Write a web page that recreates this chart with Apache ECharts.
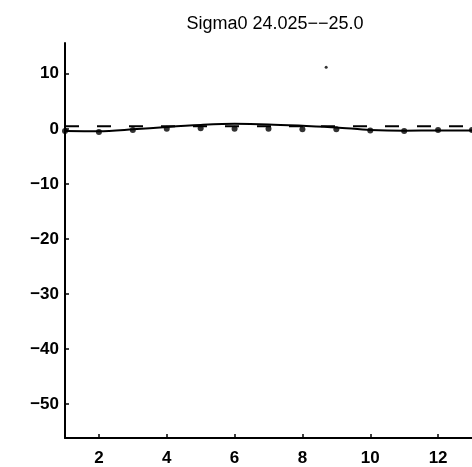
<!DOCTYPE html>
<html>
<head>
<meta charset="utf-8">
<script src="https://cdn.jsdelivr.net/npm/echarts@6/dist/echarts.min.js"></script>
<style>html,body{margin:0;padding:0;background:#fff;}#c{width:472px;height:467px;}</style>
</head>
<body>
<div id="c"></div>
<script>
var titleText = 'Sigma0 24.025\u2212\u221225.0';
var xValues = [1, 2, 3, 4, 5, 6, 7, 8, 9, 10, 11, 12, 13];
var fitLine = [-0.4, -0.45, -0.1, 0.35, 0.7, 0.9, 0.8, 0.55, 0.25, -0.2, -0.35, -0.3, -0.3];
var dotValues = [-0.4, -0.6, -0.2, 0.0, 0.1, 0.0, 0.0, -0.1, -0.1, -0.3, -0.4, -0.2, -0.2];
var dashedLevel = [0.45, 0.45, 0.45, 0.45, 0.45, 0.45, 0.45, 0.45, 0.45, 0.45, 0.45, 0.45, 0.45];
var strayPoint = [[8.7, 11.2]];
var xTicks = [2, 4, 6, 8, 10, 12];
var yTicks = [-50, -40, -30, -20, -10, 0, 10];

function pairs(xs, ys) { return xs.map(function (x, i) { return [x, ys[i]]; }); }

var chart = echarts.init(document.getElementById('c'), null, {renderer: 'canvas'});
chart.setOption({
  animation: false,
  backgroundColor: '#fff',
  title: {
    text: titleText, left: 270, top: 10, textAlign: 'center',
    textStyle: {fontFamily: 'Liberation Sans, Arial, sans-serif', fontSize: 18, fontWeight: 'normal', color: '#000'}
  },
  grid: {left: 65, right: -2, top: 43, bottom: 28, containLabel: false},
  xAxis: {
    type: 'value', min: 1, max: 13,
    axisLine: {show: true, onZero: false, lineStyle: {color: '#000', width: 2}},
    axisTick: {show: true, inside: true, length: 4, customValues: xTicks, lineStyle: {color: '#000', width: 1.5}},
    axisLabel: {customValues: xTicks, color: '#000', fontFamily: 'Liberation Sans, Arial, sans-serif', fontSize: 17, fontWeight: 'bold', margin: 12},
    splitLine: {show: false}
  },
  yAxis: {
    type: 'value', min: -56.2, max: 15.6,
    axisLine: {show: true, onZero: false, lineStyle: {color: '#000', width: 2}},
    axisTick: {show: true, inside: true, length: 4, customValues: yTicks, lineStyle: {color: '#000', width: 1.5}},
    axisLabel: {customValues: yTicks, color: '#000', fontFamily: 'Liberation Sans, Arial, sans-serif', fontSize: 17, fontWeight: 'bold', margin: 6,
      formatter: function (v) { return String(v).replace('-', '\u2212'); }},
    splitLine: {show: false}
  },
  series: [
    {type: 'line', data: pairs(xValues, dashedLevel), showSymbol: false, symbol: 'none',
      lineStyle: {color: '#000', width: 2, type: [14, 18]}, clip: true},
    {type: 'line', data: pairs(xValues, fitLine), showSymbol: false, symbol: 'none', smooth: 0.3,
      lineStyle: {color: '#000', width: 2}, clip: true},
    {type: 'scatter', data: pairs(xValues, dotValues), symbol: 'circle', symbolSize: 6,
      itemStyle: {color: '#000'}, clip: false},
    {type: 'scatter', data: strayPoint, symbol: 'circle', symbolSize: 3, itemStyle: {color: '#000'}}
  ]
});
</script>
</body>
</html>
